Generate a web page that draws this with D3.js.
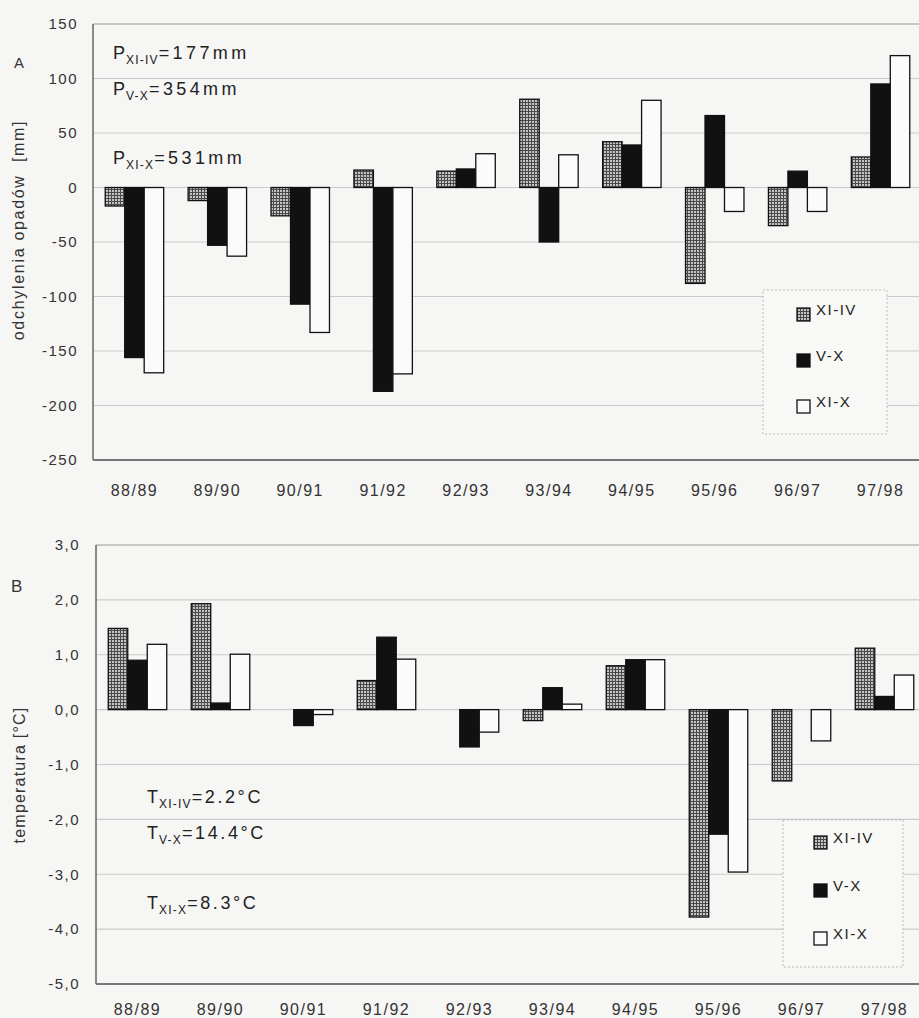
<!DOCTYPE html>
<html>
<head>
<meta charset="utf-8">
<script src="https://cdn.jsdelivr.net/npm/d3@7"></script>
<style>
  body { margin: 0; background: #f6f6f4; }
  svg { display: block; font-family: "Liberation Sans", Arial, sans-serif; }
</style>
</head>
<body>
<div id="chart-area"></div>
<script>
// Data
var categories = ["88/89", "89/90", "90/91", "91/92", "92/93", "93/94", "94/95", "95/96", "96/97", "97/98"];
var seriesNames = ["XI-IV", "V-X", "XI-X"];

// A: precipitation deviations [mm]
var precipXIIV = [-17, -12, -26, 16, 15, 81, 42, -88, -35, 28];
var precipVX   = [-156, -53, -107, -187, 17, -50, 39, 66, 15, 95];
var precipXIX  = [-170, -63, -133, -171, 31, 30, 80, -22, -22, 121];
var precipTicks = [150, 100, 50, 0, -50, -100, -150, -200, -250];

// B: temperature deviations [°C]
var tempXIIV = [1.48, 1.93, 0, 0.53, 0, -0.2, 0.8, -3.78, -1.3, 1.12];
var tempVX   = [0.9, 0.12, -0.29, 1.32, -0.68, 0.4, 0.91, -2.27, 0, 0.24];
var tempXIX  = [1.19, 1.01, -0.09, 0.92, -0.41, 0.1, 0.91, -2.96, -0.57, 0.63];
var tempTicks = [3, 2, 1, 0, -1, -2, -3, -4, -5];

var width = 919, height = 1018;

var svg = d3.select("#chart-area")
    .append("svg")
        .attr("width", width)
        .attr("height", height);

svg.append("rect")
    .attr("width", width)
    .attr("height", height)
    .attr("fill", "#f6f6f4");

// hatched fill for XI-IV
var defs = svg.append("defs");
var pat = defs.append("pattern")
    .attr("id", "grid")
    .attr("width", 3)
    .attr("height", 3)
    .attr("patternUnits", "userSpaceOnUse");
pat.append("rect").attr("width", 3).attr("height", 3).attr("fill", "#c4c4c4");
pat.append("path").attr("d", "M0,0.5H3M0.5,0V3").attr("stroke", "#4a4a4a").attr("stroke-width", 1);

var fills = ["url(#grid)", "#111", "#fbfbfb"];

function drawPanel(opt) {
    var x = d3.scaleBand()
        .domain(categories)
        .range([opt.left, opt.right])
        .paddingInner(0.295)
        .paddingOuter(0.1475);
    var xs = d3.scaleBand()
        .domain(seriesNames)
        .range([0, x.bandwidth()]);
    var y = d3.scaleLinear()
        .domain(opt.domain)
        .range([opt.bottom, opt.top]);

    var g = svg.append("g");

    // gridlines
    g.selectAll(".grid")
        .data(opt.ticks)
        .enter().append("line")
        .attr("x1", opt.left)
        .attr("x2", opt.right)
        .attr("y1", function(d){ return y(d); })
        .attr("y2", function(d){ return y(d); })
        .attr("stroke", function(d, i){ return i == 0 ? "#999" : "#cbcbcb"; })
        .attr("stroke-width", 1.2);

    // Y Axis
    var yAxisCall = d3.axisLeft(y)
        .tickValues(opt.ticks)
        .tickSize(0)
        .tickPadding(opt.tickPad)
        .tickFormat(opt.format);
    var yAxis = g.append("g")
        .attr("transform", "translate(" + opt.left + ",0)")
        .call(yAxisCall);
    yAxis.select(".domain").remove();
    yAxis.selectAll("text")
        .attr("font-size", "15px")
        .attr("letter-spacing", "1.5px")
        .attr("fill", "#333")
        .attr("font-family", "Liberation Sans, Arial, sans-serif");

    // frame
    g.append("line")
        .attr("x1", opt.left).attr("x2", opt.left)
        .attr("y1", opt.top).attr("y2", opt.bottom)
        .attr("stroke", "#666").attr("stroke-width", 1.5);
    g.append("line")
        .attr("x1", opt.left).attr("x2", opt.right)
        .attr("y1", opt.bottom).attr("y2", opt.bottom)
        .attr("stroke", "#777").attr("stroke-width", 1.8);

    // bars
    var series = [opt.s1, opt.s2, opt.s3];
    series.forEach(function(values, si){
        var rows = values.map(function(v, i){ return { cat: categories[i], v: v }; })
            .filter(function(d){ return d.v != 0; });
        g.selectAll(".bar" + si)
            .data(rows)
            .enter().append("rect")
            .attr("x", function(d){ return x(d.cat) + xs(seriesNames[si]); })
            .attr("y", function(d){ return y(Math.max(0, d.v)); })
            .attr("width", xs.bandwidth())
            .attr("height", function(d){ return Math.abs(y(d.v) - y(0)); })
            .attr("fill", fills[si])
            .attr("stroke", "#111")
            .attr("stroke-width", 1.3);
    });

    // X labels
    g.selectAll(".xlab")
        .data(categories)
        .enter().append("text")
        .attr("x", function(d){ return x(d) + x.bandwidth() / 2; })
        .attr("y", opt.xLabelY)
        .attr("text-anchor", "middle")
        .attr("font-size", "16px")
        .attr("letter-spacing", "1.5px")
        .attr("fill", "#333")
        .text(function(d){ return d; });

    // Y label
    g.append("text")
        .attr("transform", "translate(" + opt.yTitleX + "," + opt.yTitleY + ") rotate(-90)")
        .attr("text-anchor", "middle")
        .attr("font-size", "16px")
        .attr("letter-spacing", opt.yTitleLs)
        .attr("fill", "#333")
        .text(opt.yTitle);

    // panel letter
    g.append("text")
        .attr("x", opt.letterX)
        .attr("y", opt.letterY)
        .attr("font-size", opt.letterSize)
        .attr("fill", "#333")
        .text(opt.letter);

    // annotations
    opt.notes.forEach(function(n){
        var t = g.append("text")
            .attr("x", n.x)
            .attr("y", n.y)
            .attr("font-size", "18px")
            .attr("fill", "#222");
        t.append("tspan").attr("letter-spacing", "1px").text(n.sym);
        t.append("tspan").attr("font-size", "12px").attr("dy", 5).attr("letter-spacing", "1.2px").text(n.sub);
        t.append("tspan").attr("dy", -5).attr("letter-spacing", opt.noteLs).text(n.val);
    });

    // legend
    var lg = g.append("g")
        .attr("transform", "translate(" + opt.legend.x + "," + opt.legend.y + ")");
    lg.append("rect")
        .attr("width", opt.legend.w)
        .attr("height", opt.legend.h)
        .attr("fill", "#f8f8f6")
        .attr("stroke", "#bbb")
        .attr("stroke-dasharray", "2,2");
    seriesNames.forEach(function(name, i){
        var row = lg.append("g")
            .attr("transform", "translate(" + opt.legend.sx + "," + (opt.legend.sy + i * opt.legend.dy) + ")");
        row.append("rect")
            .attr("width", 13)
            .attr("height", 13)
            .attr("fill", fills[i])
            .attr("stroke", "#111")
            .attr("stroke-width", 1.3);
        row.append("text")
            .attr("x", 19)
            .attr("y", 7)
            .attr("font-size", "15px")
            .attr("letter-spacing", "1.5px")
            .attr("fill", "#222")
            .text(name);
    });
}

drawPanel({
    left: 93, right: 922, top: 24, bottom: 460,
    domain: [-250, 150], ticks: precipTicks,
    format: function(d){ return d; }, tickPad: 15,
    s1: precipXIIV, s2: precipVX, s3: precipXIX,
    xLabelY: 496,
    yTitle: "odchylenia opadów\u00a0 [mm]", yTitleX: 24, yTitleY: 230, yTitleLs: "1.7px",
    letter: "A", letterX: 14, letterY: 68, letterSize: "15px",
    noteLs: "3.4px",
    notes: [
        { x: 113, y: 59, sym: "P", sub: "XI-IV", val: "=177mm" },
        { x: 113, y: 95, sym: "P", sub: "V-X", val: "=354mm" },
        { x: 113, y: 164, sym: "P", sub: "XI-X", val: "=531mm" }
    ],
    legend: { x: 763, y: 290, w: 124, h: 144, sx: 34, sy: 18, dy: 46 }
});

drawPanel({
    left: 96, right: 926, top: 545, bottom: 984,
    domain: [-5, 3], ticks: tempTicks,
    format: function(d){ return d3.format(".1f")(d).replace(".", ",").replace("−", "-"); }, tickPad: 16,
    s1: tempXIIV, s2: tempVX, s3: tempXIX,
    xLabelY: 1015,
    yTitle: "temperatura [°C]", yTitleX: 25, yTitleY: 775, yTitleLs: "1.2px",
    letter: "B", letterX: 11, letterY: 592, letterSize: "17px",
    noteLs: "2.6px",
    notes: [
        { x: 147, y: 803, sym: "T", sub: "XI-IV", val: "=2.2°C" },
        { x: 147, y: 839, sym: "T", sub: "V-X", val: "=14.4°C" },
        { x: 147, y: 909, sym: "T", sub: "XI-X", val: "=8.3°C" }
    ],
    legend: { x: 783, y: 820, w: 120, h: 147, sx: 31, sy: 16, dy: 48 }
});
</script>
</body>
</html>
